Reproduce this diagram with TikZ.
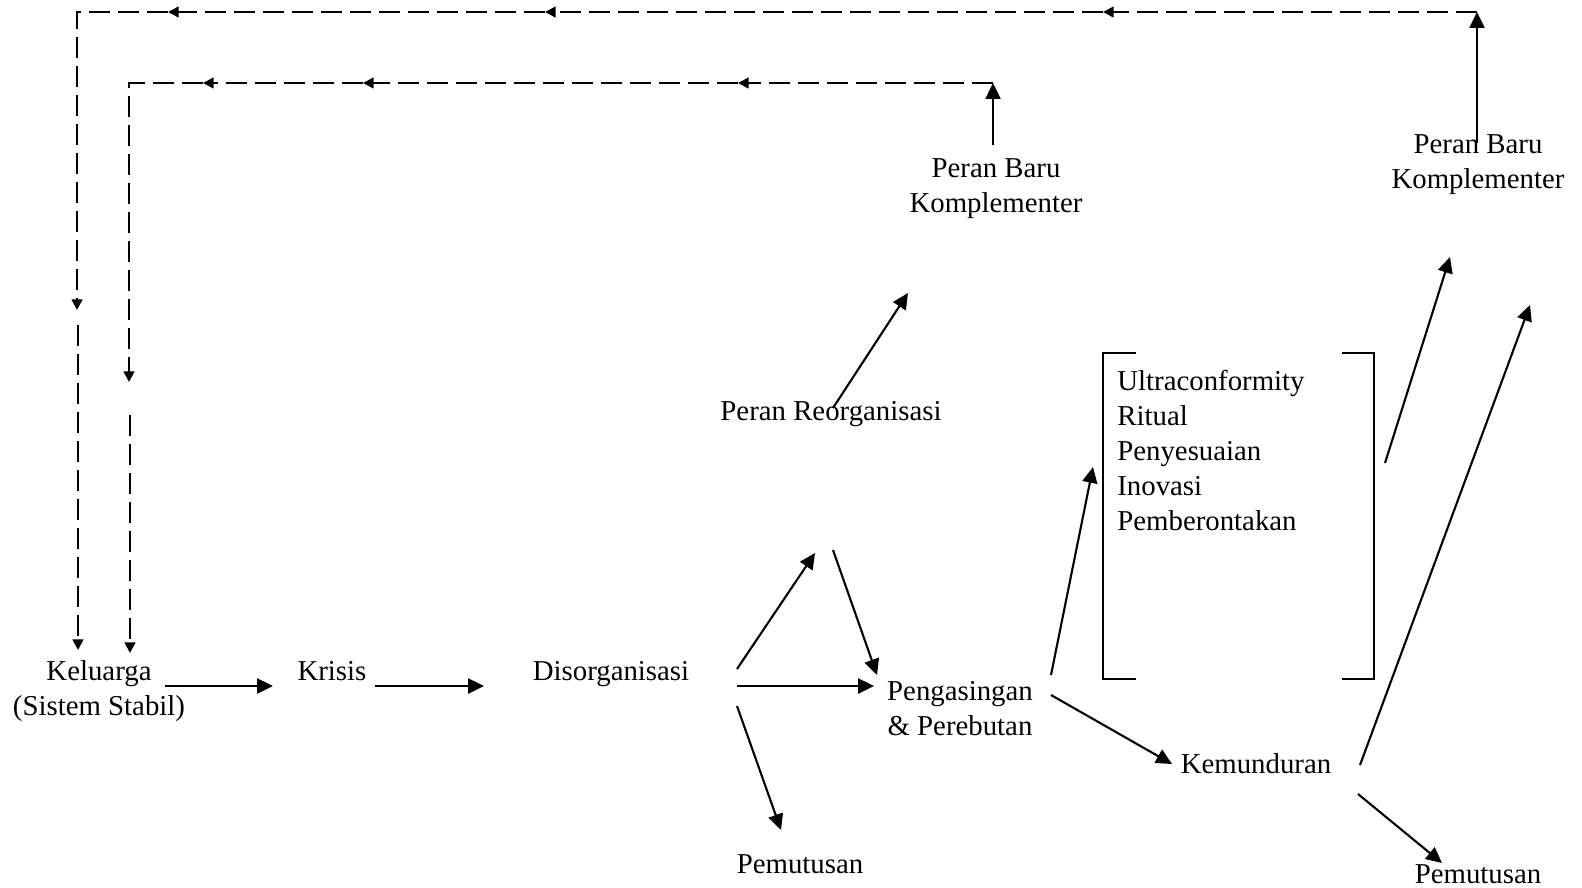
\documentclass[tikz,border=0pt]{standalone}
\usepackage{fontspec}
\setmainfont{Liberation Serif}
\usetikzlibrary{arrows.meta}
\tikzset{
  lbl/.style={inner sep=0pt,font=\fontsize{16.4}{19.9}\selectfont},
  arr/.style={line width=1.2pt,-{Triangle[length=9pt,width=8.5pt]}},
  fb/.style={line width=1.3pt,dash pattern=on 12pt off 4.5pt},
  fba/.style={fb,-{Triangle[length=6pt,width=6pt]}},
  brk/.style={line width=1.2pt}
}

\begin{document}
\begin{tikzpicture}[x=0.02cm,y=-0.02cm]
\useasboundingbox (0,0) rectangle (1582,887);
\node[lbl,align=center] (kel) at (99,691) {Keluarga\\(Sistem Stabil)};
\node[lbl,anchor=base] (kri) at (332,680) {Krisis};
\node[lbl,anchor=base] (dis) at (611,680) {Disorganisasi};
\node[lbl,anchor=base] (reo) at (831,420) {Peran Reorganisasi};
\node[lbl,align=center] (pb1) at (996,189) {Peran Baru\\Komplementer};
\node[lbl,align=center] (pb2) at (1478,165) {Peran Baru\\Komplementer};
\node[lbl,align=center] (png) at (960,709) {Pengasingan\\\& Perebutan};
\node[lbl,anchor=base] (mun) at (1256,773) {Kemunduran};
\node[lbl,anchor=base] (put1) at (800,873) {Pemutusan};
\node[lbl,anchor=base] (put2) at (1478,883) {Pemutusan};
\node[lbl,align=left,anchor=north west] (adp) at (1117,370) {Ultraconformity\\Ritual\\Penyesuaian\\Inovasi\\Pemberontakan};
\draw[brk] (1136,353) -- (1103,353) -- (1103,679) -- (1136,679);
\draw[brk] (1342,353) -- (1374,353) -- (1374,679) -- (1342,679);
% arrow ends
\coordinate (kel-r) at (165,686); \coordinate (kri-l) at (273,686);
\coordinate (kri-r) at (375,686); \coordinate (dis-l) at (484,686);
\coordinate (dis-u) at (737,669); \coordinate (dis-r) at (737,686); \coordinate (dis-d) at (737,706);
\coordinate (tri-t) at (815,553); \coordinate (tri-s) at (833,550);
\coordinate (png-l) at (874,686); \coordinate (png-t) at (877,675);
\coordinate (put1-t) at (781,830);
\coordinate (reo-s) at (833,408); \coordinate (pb1-b) at (908,293);
\coordinate (png-u) at (1051,675); \coordinate (png-r) at (1051,695);
\coordinate (adp-l) at (1093,467); \coordinate (mun-l) at (1172,764);
\coordinate (adp-r) at (1385,463); \coordinate (pb2-b) at (1450,257);
\coordinate (mun-u) at (1360,765); \coordinate (pb2-c) at (1530,305);
\coordinate (mun-d) at (1358,794); \coordinate (put2-t) at (1442,863);
\coordinate (pb1-s) at (993,145); \coordinate (in0) at (993,83);
\coordinate (pb2-s) at (1477,143); \coordinate (out0) at (1477,12);
\draw[arr] (kel-r) -- (kri-l);
\draw[arr] (kri-r) -- (dis-l);
\draw[arr] (dis-u) -- (tri-t);
\draw[arr] (dis-r) -- (png-l);
\draw[arr] (dis-d) -- (put1-t);
\draw[arr] (tri-s) -- (png-t);
\draw[arr] (reo-s) -- (pb1-b);
\draw[arr] (pb1-s) -- (in0);
\draw[arr] (png-u) -- (adp-l);
\draw[arr] (png-r) -- (mun-l);
\draw[arr] (adp-r) -- (pb2-b);
\draw[arr] (mun-u) -- (pb2-c);
\draw[arr] (mun-d) -- (put2-t);
\draw[arr] (pb2-s) -- (out0);
% feedback loops
\coordinate (out1) at (1103,12); \coordinate (out2) at (545,12); \coordinate (out3) at (168,12);
\coordinate (out4) at (77,310); \coordinate (out5) at (78,325); \coordinate (kel-o) at (78,650);
\draw[fba] (out0) -- (out1);
\draw[fba] (out1) -- (out2);
\draw[fba] (out2) -- (out3);
\draw[fba] (out3) -- (77,12) -- (out4);
\draw[fba] (out5) -- (kel-o);
\coordinate (in1) at (738,83); \coordinate (in2) at (363,83); \coordinate (in3) at (203,83);
\coordinate (in4) at (129,382); \coordinate (in5) at (130,415); \coordinate (kel-i) at (130,653);
\draw[fba] (in0) -- (in1);
\draw[fba] (in1) -- (in2);
\draw[fba] (in2) -- (in3);
\draw[fba] (in3) -- (129,83) -- (in4);
\draw[fba] (in5) -- (kel-i);
\end{tikzpicture}
\end{document}
